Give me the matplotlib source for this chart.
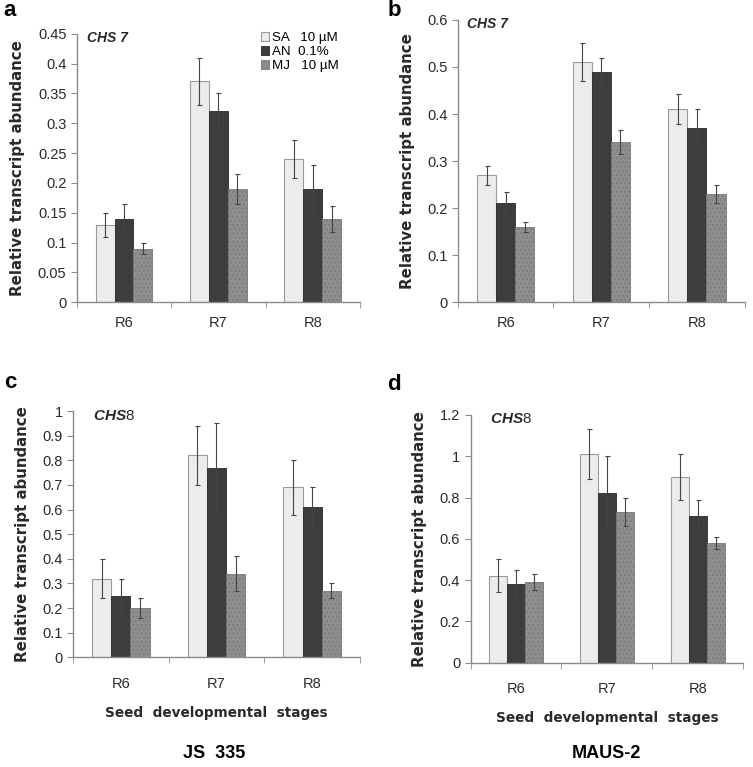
import matplotlib
matplotlib.use("Agg")
import matplotlib.pyplot as plt
import numpy as np

plt.rcParams['font.family'] = ['Liberation Sans', 'DejaVu Sans']
plt.rcParams['mathtext.fontset'] = 'custom'
plt.rcParams['mathtext.it'] = 'Liberation Sans:italic:bold'
plt.rcParams['mathtext.rm'] = 'Liberation Sans'
plt.rcParams['hatch.linewidth'] = 0.6
plt.rcParams['hatch.color'] = '#5a5a5a'

# data
stages = ["R6", "R7", "R8"]
treatments = ["SA   10 µM", "AN  0.1%", "MJ   10 µM"]

a_sa = [0.13, 0.37, 0.24]
a_an = [0.14, 0.32, 0.19]
a_mj = [0.09, 0.19, 0.14]
a_sa_err = [0.02, 0.04, 0.032]
a_an_err = [0.024, 0.03, 0.04]
a_mj_err = [0.01, 0.025, 0.022]

b_sa = [0.27, 0.51, 0.41]
b_an = [0.21, 0.49, 0.37]
b_mj = [0.16, 0.34, 0.23]
b_sa_err = [0.02, 0.04, 0.032]
b_an_err = [0.024, 0.03, 0.04]
b_mj_err = [0.01, 0.025, 0.02]

c_sa = [0.32, 0.82, 0.69]
c_an = [0.25, 0.77, 0.61]
c_mj = [0.20, 0.34, 0.27]
c_sa_err = [0.08, 0.12, 0.11]
c_an_err = [0.07, 0.18, 0.08]
c_mj_err = [0.04, 0.07, 0.03]

d_sa = [0.42, 1.01, 0.90]
d_an = [0.38, 0.82, 0.71]
d_mj = [0.39, 0.73, 0.58]
d_sa_err = [0.08, 0.12, 0.11]
d_an_err = [0.07, 0.18, 0.08]
d_mj_err = [0.04, 0.07, 0.03]

# colours
SA_COL = "#ececec"
AN_COL = "#3d3d3d"
MJ_COL = "#8e8e8e"
AXIS_COL = "#8a8a8a"
TXT_COL = "#2a2a2a"

fig = plt.figure(figsize=(7.53, 7.67), dpi=100)

def panel(rect, sa, an, mj, sae, ane, mje, ymax, ystep, fmt, gene, gene_bold, gx, letter, lpos, bottom_row):
    ax = fig.add_axes(rect)
    x = np.arange(len(stages))
    w = 0.2
    kw = dict(capsize=1.8, error_kw=dict(elinewidth=0.8, ecolor="#444444", capthick=0.8))
    ax.bar(x - w, sa, w, yerr=sae, color=SA_COL, edgecolor="#9a9a9a", linewidth=0.8, label=treatments[0], **kw)
    ax.bar(x, an, w, yerr=ane, color=AN_COL, edgecolor="#2a2a2a", linewidth=0.6, label=treatments[1], **kw)
    ax.bar(x + w, mj, w, yerr=mje, color=MJ_COL, edgecolor="#777777", linewidth=0.6, hatch="....",
           label=treatments[2], **kw)
    ax.set_xlim(-0.5, 2.5)
    ax.set_ylim(0, ymax)
    ticks = np.arange(0, ymax + ystep / 2, ystep)
    ax.set_yticks(ticks)
    ax.set_yticklabels([fmt(t) for t in ticks], fontsize=10.5, color=TXT_COL)
    ax.set_xticks(x)
    ax.set_xticklabels(stages, fontsize=10.5, color=TXT_COL)
    ax.set_xticks([-0.5, 0.5, 1.5, 2.5], minor=True)
    ax.tick_params(axis="x", which="major", length=0, pad=14 if bottom_row else 10)
    ax.tick_params(axis="x", which="minor", length=4, color=AXIS_COL, direction="out")
    ax.tick_params(axis="y", length=4, color=AXIS_COL, direction="out")
    for s in ["top", "right"]:
        ax.spines[s].set_visible(False)
    for s in ["left", "bottom"]:
        ax.spines[s].set_color(AXIS_COL)
        ax.spines[s].set_linewidth(1.0)
    ax.set_ylabel("Relative transcript abundance", fontsize=10.8, fontweight="bold", labelpad=9,
                  color=TXT_COL, family="DejaVu Sans")
    if bottom_row:
        ax.set_xlabel("Seed  developmental  stages", fontsize=9.8, fontweight="bold", labelpad=11,
                      color=TXT_COL, family="DejaVu Sans")
    if gene_bold:
        ax.text(gx, 1.01, gene, transform=ax.transAxes, fontsize=10, va="top", ha="left",
                fontweight="bold", fontstyle="italic", color=TXT_COL)
    else:
        ax.text(gx, 1.01, gene, transform=ax.transAxes, fontsize=11, va="top", ha="left",
                color=TXT_COL)
    fig.text(lpos[0], lpos[1], letter, fontsize=16, fontweight="bold", va="top", ha="left")
    return ax

fmt_a = lambda t: "0" if t == 0 else ("%.2f" % t).rstrip("0")
fmt_b = lambda t: "0" if t == 0 else ("%.1f" % t).rstrip("0").rstrip(".")

ax_a = panel([0.102, 0.606, 0.376, 0.350], a_sa, a_an, a_mj, a_sa_err, a_an_err, a_mj_err,
             0.45, 0.05, fmt_a, "CHS 7", True, 0.035, "a", (0.004, 1.0), False)
ax_b = panel([0.608, 0.606, 0.381, 0.368], b_sa, b_an, b_mj, b_sa_err, b_an_err, b_mj_err,
             0.6, 0.1, fmt_b, "CHS 7", True, 0.032, "b", (0.515, 1.0), False)
ax_c = panel([0.097, 0.143, 0.381, 0.321], c_sa, c_an, c_mj, c_sa_err, c_an_err, c_mj_err,
             1.0, 0.1, fmt_b, r"$\mathit{CHS}$8", False, 0.07, "c", (0.006, 0.515), True)
ax_d = panel([0.625, 0.136, 0.362, 0.323], d_sa, d_an, d_mj, d_sa_err, d_an_err, d_mj_err,
             1.2, 0.2, fmt_b, r"$\mathit{CHS}$8", False, 0.07, "d", (0.514, 0.512), True)

leg = ax_a.legend(loc="upper left", bbox_to_anchor=(0.65, 1.005), frameon=False, fontsize=9.6,
                  handlelength=0.6, handleheight=0.6, handletextpad=0.25, labelspacing=0.15,
                  borderaxespad=0, borderpad=0)

fig.text(0.285, 0.018, "JS  335", fontsize=13, fontweight="bold", ha="center", va="center")
fig.text(0.806, 0.018, "MAUS-2", fontsize=13, fontweight="bold", ha="center", va="center")

fig.savefig("out.png", dpi=100)
